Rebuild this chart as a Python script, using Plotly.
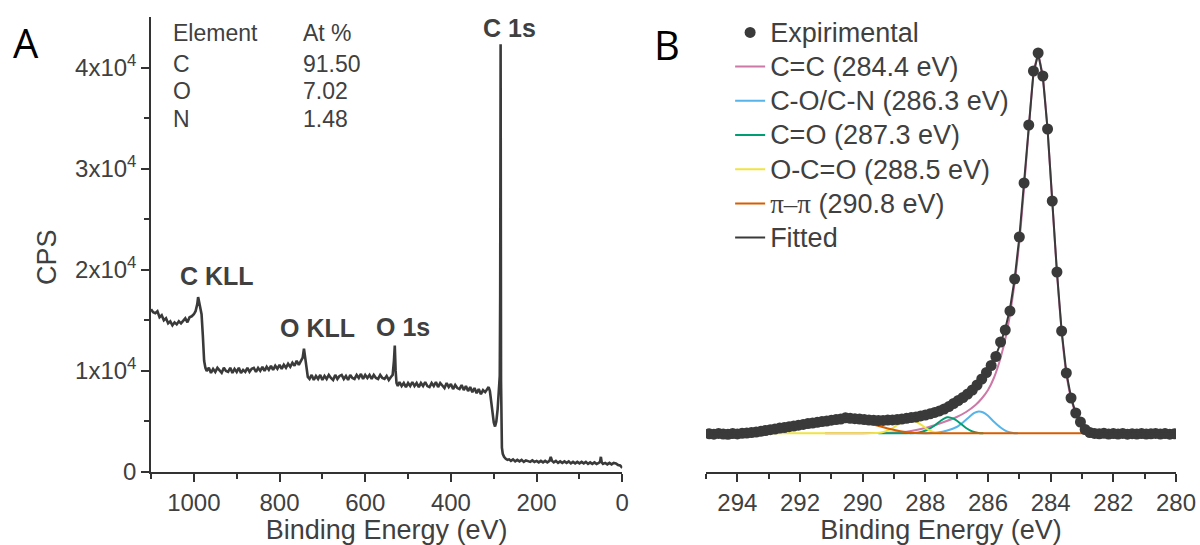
import plotly.graph_objects as go

# ---------------- Panel A: survey spectrum ----------------
survey_be = [1100, 1095, 1090, 1085, 1080, 1075, 1070, 1065, 1060, 1055, 1050, 1045, 1040, 1035, 1030,
             1025, 1020, 1015, 1010, 1005, 1000, 996, 992, 990, 988, 985, 982, 979, 976, 973, 970,
             965, 960, 955, 950, 945, 940, 935, 930, 925, 920, 915, 910, 905, 900, 895, 890, 885,
             880, 875, 870, 865, 860, 855, 850, 845, 840, 835, 830, 825, 820, 815, 810, 805, 800,
             795, 790, 785, 780, 775, 770, 765, 760, 755, 750, 746, 743, 740, 737, 734, 730, 725,
             720, 715, 710, 705, 700, 695, 690, 685, 680, 675, 670, 665, 660, 655, 650, 645, 640,
             635, 630, 625, 620, 615, 610, 605, 600, 595, 590, 585, 580, 575, 570, 565, 560, 555,
             550, 545, 540, 536, 533, 531, 529, 527, 524, 520, 515, 510, 505, 500, 495, 490, 485,
             480, 475, 470, 465, 460, 455, 450, 445, 440, 435, 430, 425, 420, 415, 410, 405, 400,
             395, 390, 385, 380, 375, 370, 365, 360, 355, 350, 345, 340, 335, 330, 325, 320, 315,
             312, 309, 306, 303, 300, 297, 294, 291, 289, 287, 286, 285, 284, 283, 282, 281, 279,
             276, 272, 268, 264, 260, 255, 250, 245, 240, 235, 230, 225, 220, 215, 210, 205, 200,
             195, 190, 185, 180, 175, 170, 167, 164, 160, 155, 150, 145, 140, 135, 130, 125, 120,
             115, 110, 105, 100, 95, 90, 85, 80, 75, 70, 65, 60, 55, 52, 50, 48, 45, 40, 35, 30,
             25, 20, 15, 10, 5, 2, 0]
survey_cps = [16100, 15800, 15700, 15900, 15300, 15500, 15000, 15200, 14700, 14900, 14500, 14800, 14600, 14900, 14700,
              15000, 15200, 14800, 15300, 15400, 15600, 15900, 16600, 17300, 16900, 16200, 15600, 13500, 11000, 10300, 10000,
              10300, 9800, 10200, 9900, 10300, 10100, 9800, 10300, 10000, 9900, 10300, 9800, 10200, 9900, 10300, 9800, 10100,
              9900, 10300, 9900, 10200, 10300, 9900, 10300, 10000, 10400, 10000, 10400, 10100, 10500, 10100, 10500, 10200, 10600,
              10200, 10600, 10300, 10700, 10400, 10800, 10500, 11000, 10600, 11000, 11300, 12200, 11400, 10200, 9400, 9200, 9600,
              9100, 9500, 9200, 9600, 9100, 9500, 9200, 9600, 9300, 9100, 9600, 9200, 9500, 9600, 9200, 9500, 9100,
              9600, 9300, 9200, 9600, 9300, 9700, 9200, 9600, 9300, 9600, 9200, 9600, 9300, 9200, 9600, 9300, 9200,
              9500, 9100, 9400, 9600, 11000, 12500, 10000, 8800, 8500, 8900, 8500, 8800, 8400, 8800, 8500, 8900, 8500,
              8800, 8400, 8800, 8500, 8900, 8500, 8400, 8800, 8500, 8900, 8400, 8800, 8500, 8300, 8800, 8400, 8700,
              8200, 8600, 8300, 8200, 8600, 8100, 8500, 8000, 8400, 7900, 8300, 7800, 8200, 7700, 8100, 7900, 8300,
              8400, 8000, 7000, 5800, 4900, 4500, 5000, 6200, 7400, 8200, 9500, 17500, 42300, 9000, 3500, 2400, 1800,
              1500, 1300, 1200, 1250, 1100, 1250, 1050, 1200, 1050, 1200, 1000, 1150, 1050, 1000, 1150, 1000, 1100,
              950, 1100, 950, 1100, 950, 1100, 1500, 1100, 950, 1100, 900, 1050, 900, 1050, 900, 1050, 850,
              1000, 850, 1000, 850, 1000, 850, 1000, 800, 950, 800, 950, 800, 900, 1000, 1500, 950, 800, 900, 750, 900,
              750, 900, 850, 700, 650, 500, 400]

elements = ["C", "O", "N"]
at_percent = ["91.50", "7.02", "1.48"]

peak_labels = ["C KLL", "O KLL", "O 1s", "C 1s"]
peak_label_be = [947, 712, 512, 263]
peak_label_cps = [19400, 14280, 14310, 43950]

y_tickvals = [0, 10000, 20000, 30000, 40000]
y_ticktext = ["0", "1x10<sup>4</sup>", "2x10<sup>4</sup>", "3x10<sup>4</sup>", "4x10<sup>4</sup>"]
y_minorvals = [5000, 15000, 25000, 35000]

# ---------------- Panel B: C 1s high resolution ----------------
hr_be = [294.90, 294.75, 294.60, 294.45, 294.30, 294.15, 294.00, 293.85, 293.70, 293.55,
         293.40, 293.25, 293.10, 292.95, 292.80, 292.65, 292.50, 292.35, 292.20, 292.05,
         291.90, 291.75, 291.60, 291.45, 291.30, 291.15, 291.00, 290.85, 290.70, 290.55,
         290.40, 290.25, 290.10, 289.95, 289.80, 289.65, 289.50, 289.35, 289.20, 289.05,
         288.90, 288.75, 288.60, 288.45, 288.30, 288.15, 288.00, 287.85, 287.70, 287.55,
         287.40, 287.25, 287.10, 286.95, 286.80, 286.65, 286.50, 286.35, 286.20, 286.05,
         285.90, 285.75, 285.60, 285.45, 285.30, 285.15, 285.00, 284.85, 284.70, 284.55,
         284.40, 284.25, 284.10, 283.95, 283.80, 283.65, 283.50, 283.35, 283.20, 283.05,
         282.90, 282.75, 282.60, 282.45, 282.30, 282.15, 282.00, 281.85, 281.70, 281.55,
         281.40, 281.25, 281.10, 280.95, 280.80, 280.65, 280.50, 280.35, 280.20, 280.05]
hr_exp = [3820, 3780, 3860, 3800, 3770, 3850, 3810, 3870, 3900, 3950,
          4000, 4070, 4150, 4230, 4300, 4390, 4450, 4530, 4600, 4680,
          4760, 4840, 4900, 4970, 5040, 5100, 5180, 5240, 5300, 5420,
          5370, 5330, 5290, 5240, 5200, 5170, 5150, 5160, 5190, 5210,
          5250, 5300, 5370, 5440, 5500, 5610, 5700, 5820, 5960, 6110,
          6300, 6540, 6850, 7150, 7450, 7800, 8200, 8700, 9300, 9950,
          10650, 11550, 13000, 14200, 16100, 19300, 23500, 28900, 34700, 40100,
          41900, 39600, 34300, 27100, 20000, 14100, 9900, 7400, 5900, 5000,
          4250, 3950, 3860, 3820, 3870, 3790, 3840, 3800, 3860, 3780,
          3830, 3800, 3850, 3790, 3820, 3860, 3800, 3840, 3780, 3820]
hr_fit = [3830, 3830, 3830, 3830, 3830, 3835, 3840, 3850, 3870, 3900,
          3950, 4020, 4100, 4180, 4260, 4340, 4420, 4500, 4580, 4660,
          4740, 4820, 4900, 4970, 5040, 5100, 5160, 5210, 5250, 5270,
          5270, 5250, 5220, 5190, 5160, 5140, 5130, 5140, 5170, 5210,
          5260, 5320, 5380, 5440, 5510, 5600, 5700, 5820, 5950, 6100,
          6290, 6520, 6820, 7150, 7470, 7820, 8200, 8700, 9300, 9950,
          10700, 11650, 12900, 14300, 16300, 19300, 23500, 28800, 34700, 39900,
          41800, 39500, 34300, 27100, 20000, 14100, 9950, 7450, 5900, 5000,
          4350, 4000, 3880, 3840, 3830, 3830, 3830, 3830, 3830, 3830,
          3830, 3830, 3830, 3830, 3830, 3830, 3830, 3830, 3830, 3830]

cc_be = [291.2, 290.5, 290.0, 289.5, 289.0, 288.5, 288.0, 287.5, 287.0, 286.7, 286.4, 286.2, 286.0,
         285.8, 285.6, 285.4, 285.2, 285.0, 284.85, 284.7, 284.55, 284.4, 284.25, 284.1, 283.95,
         283.8, 283.65, 283.5, 283.35, 283.2, 283.05, 282.9, 282.75, 282.6]
cc_val = [3870, 3875, 3880, 3900, 3940, 4080, 4400, 4900, 5500, 6000, 6700, 7350, 8200,
          9500, 11400, 14000, 17800, 23000, 28400, 34300, 39700, 41700, 39400, 34200, 27000,
          19900, 14000, 9850, 7350, 5850, 4950, 4350, 4050, 3950]

co_be = [288.5, 288.0, 287.6, 287.3, 287.0, 286.8, 286.6, 286.45, 286.3, 286.15, 286.0, 285.8,
         285.6, 285.4, 285.2, 285.05]
co_val = [3870, 3875, 3950, 4150, 4500, 4950, 5500, 5880, 6050, 5950, 5620, 5000,
          4450, 4060, 3900, 3870]

cdo_be = [289.5, 288.6, 288.2, 287.95, 287.7, 287.5, 287.3, 287.1, 286.9, 286.7, 286.5, 286.3, 286.15]
cdo_val = [3870, 3875, 3950, 4200, 4650, 5150, 5470, 5330, 4900, 4400, 4050, 3900, 3870]

occo_be = [293.9, 291.0, 289.9, 289.4, 289.1, 288.9, 288.7, 288.5, 288.3, 288.1, 287.9, 287.7, 287.5]
occo_val = [3870, 3875, 3880, 3960, 4280, 4700, 5080, 5200, 5050, 4650, 4220, 3960, 3880]

pipi_be = [293.9, 293.4, 293.0, 292.5, 292.0, 291.5, 291.0, 290.7, 290.4, 290.0, 289.6, 289.2,
           288.8, 288.4, 288.0, 287.5, 282.75]
pipi_val = [3870, 3950, 4080, 4300, 4580, 4880, 5120, 5220, 5180, 5000, 4700, 4350,
            4080, 3920, 3875, 3870, 3870]

component_names = ["C=C (284.4 eV)", "C-O/C-N (286.3 eV)", "C=O (287.3 eV)", "O-C=O (288.5 eV)",
                   "<span style=\"font-family:'Liberation Serif', serif\">π–π</span> (290.8 eV)"]
component_colors = ["#CC79A7", "#56B4E9", "#009E73", "#F0E442", "#D55E00"]
component_be = [cc_be, co_be, cdo_be, occo_be, pipi_be]
component_val = [cc_val, co_val, cdo_val, occo_val, pipi_val]

DARK = "#3a3a3a"
TXT = "#404040"
FONT = "Liberation Sans, Arial, sans-serif"


def big(s):
    return '<span style="font-size:27px">' + s + '</span>'


fig = go.Figure()

fig.add_trace(go.Scatter(x=survey_be, y=survey_cps, mode="lines",
                         line=dict(color=DARK, width=2.6), showlegend=False,
                         xaxis="x", yaxis="y"))

for i, (name, col, xs, ys) in enumerate(zip(component_names, component_colors, component_be, component_val)):
    fig.add_trace(go.Scatter(x=xs, y=ys, mode="lines", name=big(name),
                             line=dict(color=col, width=2, shape="spline", smoothing=0.6),
                             legendrank=2 + i, xaxis="x2", yaxis="y2"))

fig.add_trace(go.Scatter(x=hr_be, y=hr_exp, mode="markers", name=big("Expirimental"),
                         marker=dict(color=DARK, size=11), legendrank=1,
                         xaxis="x2", yaxis="y2"))
fig.add_trace(go.Scatter(x=hr_be, y=hr_fit, mode="lines", name=big("Fitted"),
                         line=dict(color=DARK, width=2), legendrank=7,
                         xaxis="x2", yaxis="y2"))

axis_common = dict(showline=True, linecolor="#333", linewidth=1.5, ticks="outside", ticklen=8,
                   tickwidth=1.5, tickcolor="#333", showgrid=False, zeroline=False,
                   tickfont=dict(size=24, color=TXT, family=FONT))

annotations = []
# table
ty = [0.964, 0.8961, 0.8374, 0.7752]
annotations.append(dict(text="Element", x=0.0192, y=ty[0], xref="paper", yref="paper",
                        xanchor="left", yanchor="middle", showarrow=False, font=dict(size=23, color=TXT)))
annotations.append(dict(text="At %", x=0.1463, y=ty[0], xref="paper", yref="paper",
                        xanchor="left", yanchor="middle", showarrow=False, font=dict(size=23, color=TXT)))
for k, (el, at) in enumerate(zip(elements, at_percent)):
    annotations.append(dict(text=el, x=0.0192, y=ty[k + 1], xref="paper", yref="paper",
                            xanchor="left", yanchor="middle", showarrow=False, font=dict(size=23, color=TXT)))
    annotations.append(dict(text=at, x=0.1463, y=ty[k + 1], xref="paper", yref="paper",
                            xanchor="left", yanchor="middle", showarrow=False, font=dict(size=23, color=TXT)))
for lab, bx, by in zip(peak_labels, peak_label_be, peak_label_cps):
    annotations.append(dict(text="<b>" + lab + "</b>", x=bx, y=by, xref="x", yref="y",
                            xanchor="center", yanchor="middle", showarrow=False,
                            font=dict(size=25, color=TXT)))
# y title
annotations.append(dict(text="CPS", x=-0.1015, y=0.4725, xref="paper", yref="paper", textangle=-90,
                        xanchor="center", yanchor="middle", showarrow=False, font=dict(size=27, color=TXT)))
# panel letters
annotations.append(dict(text="A", x=-0.122, y=0.945, xref="paper", yref="paper",
                        xanchor="center", yanchor="middle", showarrow=False,
                        font=dict(size=40, color="black", family="Open Sans, sans-serif")))
annotations.append(dict(text="B", x=0.5035, y=0.9385, xref="paper", yref="paper",
                        xanchor="center", yanchor="middle", showarrow=False,
                        font=dict(size=40, color="black", family="Open Sans, sans-serif")))

fig.update_layout(
    width=1200, height=545,
    margin=dict(l=151, r=24, t=17, b=73, autoexpand=False),
    paper_bgcolor="white", plot_bgcolor="white",
    font=dict(family=FONT, color=TXT),
    xaxis=dict(domain=[0, 0.4598], range=[1100, 0], anchor="y", tickmode="linear", tick0=0, dtick=200,
               minor=dict(dtick=100, tick0=0, ticks="outside", ticklen=5, tickcolor="#333", tickwidth=1.5),
               title=dict(text="Binding Energy (eV)", font=dict(size=27, color=TXT), standoff=2),
               **axis_common),
    yaxis=dict(domain=[0, 1], range=[0, 45000], anchor="x", tickmode="array",
               tickvals=y_tickvals, ticktext=y_ticktext,
               minor=dict(tickvals=y_minorvals, ticks="outside", ticklen=5, tickcolor="#333", tickwidth=1.5),
               **axis_common),
    xaxis2=dict(domain=[0.5415, 1], range=[295, 280], anchor="y2", tickmode="linear", tick0=280, dtick=2,
                minor=dict(dtick=1, tick0=280, ticks="outside", ticklen=5, tickcolor="#333", tickwidth=1.5),
                title=dict(text="Binding Energy (eV)", font=dict(size=27, color=TXT), standoff=2),
                **axis_common),
    yaxis2=dict(domain=[0, 1], range=[0, 45500], anchor="x2", visible=False),
    legend=dict(x=0.565, y=1.0147, xanchor="left", yanchor="top", bgcolor="rgba(0,0,0,0)",
                font=dict(size=24, color=TXT, family=FONT), tracegroupgap=0),
    annotations=annotations,
)

fig.write_html("out.html")
